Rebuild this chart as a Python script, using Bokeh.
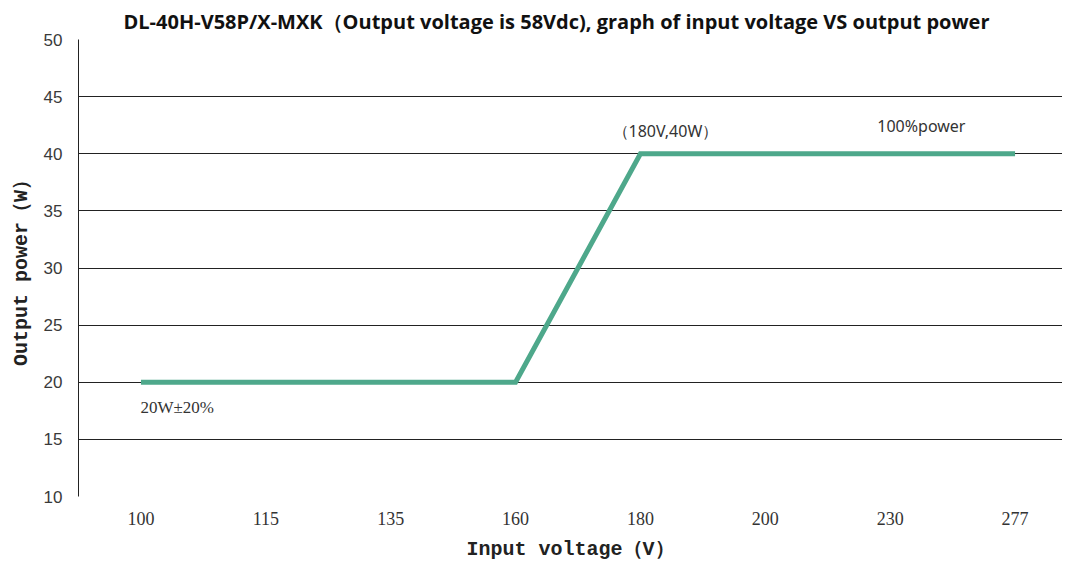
from bokeh.plotting import figure
from bokeh.models import Range1d, FixedTicker, Title
from bokeh.core.properties import value
from bokeh.embed import file_html
from bokeh.resources import INLINE

# Data
input_voltage = ["100", "115", "135", "160", "180", "200", "230", "277"]
output_power = [20, 20, 20, 20, 40, 40, 40, 40]
y_ticks = [10, 15, 20, 25, 30, 35, 40, 45, 50]

title_text = "DL-40H-V58P/X-MXK（Output voltage is 58Vdc), graph of input voltage VS output power"
x_label = "Input voltage（V）"
y_label = "Output power（W）"

xs = list(range(len(input_voltage)))

p = figure(width=1062, height=563, output_backend="svg", toolbar_location=None,
           x_range=Range1d(-0.5, 7.38), y_range=Range1d(10, 50),
           min_border_left=78, min_border_right=0, min_border_top=39, min_border_bottom=66)
p.title = Title(text=title_text, align="left", text_font="Open Sans",
                text_font_style="bold", text_font_size="20px", text_color="#111111", offset=45)
p.outline_line_color = None
p.background_fill_color = "white"
p.border_fill_color = "white"

# grids
p.xgrid.grid_line_color = None
p.ygrid.grid_line_color = "#222222"
p.ygrid.grid_line_width = 1
p.ygrid.ticker = FixedTicker(ticks=y_ticks)

# y axis
p.yaxis.ticker = FixedTicker(ticks=y_ticks)
p.yaxis.axis_line_color = "#222222"
p.yaxis.major_tick_line_color = None
p.yaxis.minor_tick_line_color = None
p.yaxis.major_label_text_font = "Liberation Sans"
p.yaxis.major_label_text_font_size = "17px"
p.yaxis.major_label_text_color = "#3a3a3a"
p.yaxis.major_label_standoff = 10
p.yaxis.axis_label = y_label
p.yaxis.axis_label_text_font = "Liberation Mono"
p.yaxis.axis_label_text_font_style = "bold"
p.yaxis.axis_label_text_font_size = "20px"
p.yaxis.axis_label_text_color = "#222222"
p.yaxis.axis_label_standoff = 8

# x axis
p.xaxis.ticker = FixedTicker(ticks=xs)
p.xaxis.major_label_overrides = {i: v for i, v in zip(xs, input_voltage)}
p.xaxis.axis_line_color = None
p.xaxis.major_tick_line_color = None
p.xaxis.minor_tick_line_color = None
p.xaxis.major_label_text_font = "Liberation Serif"
p.xaxis.major_label_text_font_size = "18px"
p.xaxis.major_label_text_color = "#333333"
p.xaxis.major_label_standoff = 9
p.xaxis.axis_label = x_label
p.xaxis.axis_label_text_font = "Liberation Mono"
p.xaxis.axis_label_text_font_style = "bold"
p.xaxis.axis_label_text_font_size = "20px"
p.xaxis.axis_label_text_color = "#222222"
p.xaxis.axis_label_standoff = 10

# line
p.line(xs, output_power, line_color="#4ea88b", line_width=5, line_join="miter")

# annotations
p.text(x=[4.2], y=[42.0], text=["（180V,40W）"], text_font=value("Noto Sans"),
       text_font_size="16px", text_color="#333333", text_align="center", text_baseline="middle")
p.text(x=[6.25], y=[42.4], text=["100%power"], text_font=value("Noto Sans"),
       text_font_size="16px", text_color="#333333", text_align="center", text_baseline="middle")
p.text(x=[0.29], y=[17.8], text=["20W±20%"], text_font=value("Liberation Serif"),
       text_font_size="17px", text_color="#333333", text_align="center", text_baseline="middle")

open("out.html", "w").write(file_html(p, INLINE))
